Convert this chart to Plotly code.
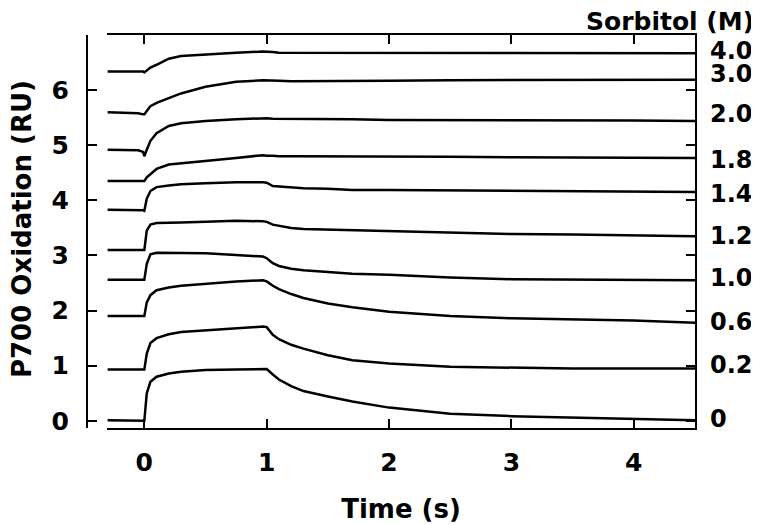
import plotly.graph_objects as go

time_s = [-0.3, -0.05, -0.01, 0.0, 0.02, 0.05, 0.1, 0.2, 0.3, 0.5, 0.75, 0.97, 1.0,
          1.05, 1.1, 1.2, 1.3, 1.5, 1.7, 2.0, 2.5, 3.0, 3.5, 4.0, 4.5]

# P700 oxidation (RU) traces, one per sorbitol concentration
sorb_0 = [0.01, 0.01, 0.01, 0.00, 0.50, 0.71, 0.80, 0.86, 0.89, 0.92, 0.93, 0.95, 0.94,
          0.84, 0.75, 0.63, 0.54, 0.44, 0.35, 0.24, 0.13, 0.085, 0.06, 0.04, 0.01]
sorb_02 = [0.93, 0.93, 0.93, 0.93, 1.22, 1.41, 1.50, 1.57, 1.61, 1.64, 1.68, 1.71, 1.70,
           1.56, 1.48, 1.38, 1.31, 1.19, 1.10, 1.04, 0.98, 0.96, 0.95, 0.95, 0.95]
sorb_06 = [1.90, 1.90, 1.90, 1.90, 2.15, 2.28, 2.37, 2.42, 2.45, 2.49, 2.53, 2.55, 2.53,
           2.45, 2.39, 2.30, 2.23, 2.13, 2.06, 1.98, 1.90, 1.86, 1.84, 1.82, 1.78]
sorb_10 = [2.56, 2.56, 2.56, 2.56, 2.85, 3.02, 3.05, 3.05, 3.05, 3.04, 3.01, 2.98, 2.95,
           2.86, 2.81, 2.76, 2.73, 2.70, 2.67, 2.65, 2.60, 2.57, 2.56, 2.56, 2.55]
sorb_12 = [3.10, 3.10, 3.10, 3.10, 3.45, 3.56, 3.59, 3.60, 3.60, 3.61, 3.63, 3.62, 3.61,
           3.56, 3.54, 3.50, 3.48, 3.47, 3.46, 3.45, 3.42, 3.39, 3.38, 3.36, 3.35]
sorb_14 = [3.83, 3.83, 3.82, 3.81, 4.03, 4.17, 4.24, 4.27, 4.29, 4.31, 4.33, 4.33, 4.32,
           4.26, 4.25, 4.23, 4.22, 4.21, 4.19, 4.19, 4.18, 4.17, 4.16, 4.16, 4.15]
sorb_18 = [4.35, 4.35, 4.35, 4.35, 4.42, 4.48, 4.57, 4.65, 4.67, 4.71, 4.77, 4.82, 4.81,
           4.81, 4.80, 4.80, 4.80, 4.80, 4.80, 4.79, 4.79, 4.78, 4.78, 4.78, 4.77]
sorb_20 = [4.92, 4.91, 4.88, 4.80, 4.92, 5.08, 5.22, 5.35, 5.40, 5.44, 5.47, 5.49, 5.49,
           5.48, 5.48, 5.47, 5.47, 5.47, 5.47, 5.46, 5.46, 5.45, 5.45, 5.45, 5.44]
sorb_30 = [5.60, 5.58, 5.56, 5.56, 5.62, 5.71, 5.77, 5.85, 5.94, 6.06, 6.15, 6.18, 6.18,
           6.17, 6.17, 6.16, 6.16, 6.16, 6.17, 6.17, 6.18, 6.18, 6.18, 6.18, 6.19]
sorb_40 = [6.34, 6.34, 6.34, 6.32, 6.36, 6.41, 6.46, 6.57, 6.62, 6.65, 6.68, 6.70, 6.70,
           6.69, 6.68, 6.68, 6.67, 6.67, 6.67, 6.67, 6.67, 6.67, 6.67, 6.67, 6.67]

traces = [sorb_0, sorb_02, sorb_06, sorb_10, sorb_12, sorb_14, sorb_18, sorb_20, sorb_30, sorb_40]

# right-hand concentration labels and the heights they sit at (RU)
conc_labels = ["0", "0.2", "0.6", "1.0", "1.2", "1.4", "1.8", "2.0", "3.0", "4.0"]
conc_label_y = [0.04, 1.01, 1.80, 2.59, 3.35, 4.12, 4.74, 5.56, 6.30, 6.71]

y_tickvals = [0, 1, 2, 3, 4, 5, 6, 7]
y_ticktext = ["0", "1", "2", "3", "4", "5", "6", ""]
x_tickvals = [0, 1, 2, 3, 4]

FONT = "DejaVu Sans"

fig = go.Figure()
for tr in traces:
    fig.add_trace(go.Scatter(x=time_s, y=tr, mode="lines",
                             line=dict(color="black", width=2.5),
                             showlegend=False, hoverinfo="skip"))

for lab, yv in zip(conc_labels, conc_label_y):
    fig.add_annotation(x=1.0215, xref="paper", y=yv, yref="y", text=lab,
                       showarrow=False, xanchor="left", yanchor="middle",
                       font=dict(family=FONT, size=24, color="black", weight="bold"))

fig.add_annotation(x=1.1005, xref="paper", y=1.035, yref="paper", text="Sorbitol (M)",
                   showarrow=False, xanchor="right", yanchor="middle",
                   font=dict(family=FONT, size=25, color="black", weight="bold"))

# y-axis title placed as an annotation so it can sit close to the left edge
fig.add_annotation(x=-0.107, xref="paper", y=0.506, yref="paper",
                   text="P700 Oxidation (RU)", textangle=-90, showarrow=False,
                   xanchor="center", yanchor="middle",
                   font=dict(family=FONT, size=26, color="black", weight="bold"))

fig.update_layout(
    width=751, height=516,
    margin=dict(l=79, r=64, t=27, b=96, autoexpand=False),
    plot_bgcolor="white", paper_bgcolor="white",
    xaxis=dict(domain=[0.0329, 1.0], range=[-0.305, 4.5], automargin=False,
               tickvals=x_tickvals, ticks="inside", ticklen=9, tickwidth=2,
               tickcolor="black", showline=True, linewidth=2, linecolor="black",
               mirror="ticks", showgrid=False, zeroline=False,
               tickfont=dict(family=FONT, size=25, color="black", weight="bold"),
               ticklabelstandoff=11,
               title=dict(text="Time (s)", standoff=26,
                          font=dict(family=FONT, size=26, color="black", weight="bold"))),
    yaxis=dict(anchor="free", position=0.0, range=[-0.13, 7.0], automargin=False,
               tickvals=y_tickvals, ticktext=y_ticktext,
               ticks="inside", ticklen=9, tickwidth=2, tickcolor="black",
               showline=True, linewidth=2, linecolor="black",
               showgrid=False, zeroline=False,
               tickfont=dict(family=FONT, size=25, color="black", weight="bold"),
               ticklabelstandoff=12),
    yaxis2=dict(overlaying="y", side="right", anchor="x", matches="y", automargin=False,
                range=[-0.13, 7.0], tickvals=y_tickvals, showticklabels=False,
                ticks="inside", ticklen=9, tickwidth=2, tickcolor="black",
                showline=True, linewidth=2, linecolor="black",
                showgrid=False, zeroline=False),
)
# invisible trace that switches the right-hand axis on
fig.add_trace(go.Scatter(x=[None], y=[None], yaxis="y2", showlegend=False, hoverinfo="skip"))

fig.write_html("out.html")
